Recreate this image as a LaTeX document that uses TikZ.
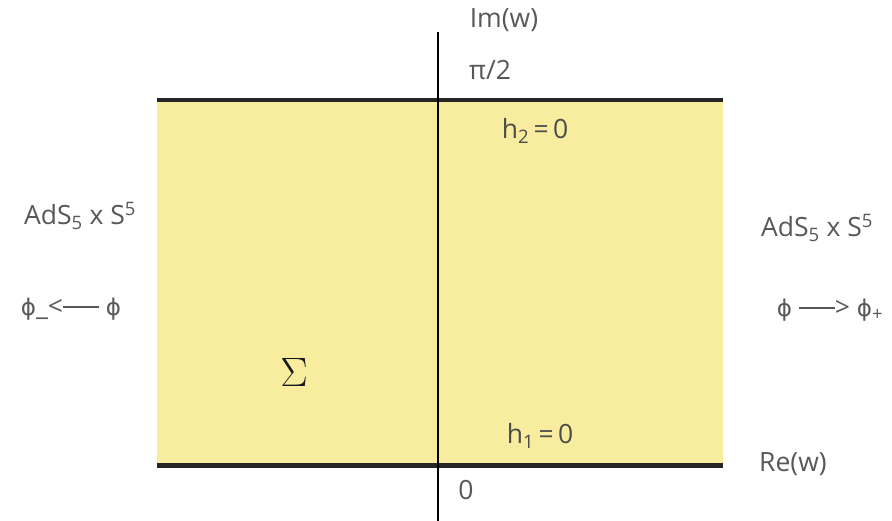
\documentclass[tikz,border=0pt]{standalone}
\usepackage{fontspec}
\setmainfont{Open Sans}
\newfontfamily\phifont{DejaVu Sans}
\usetikzlibrary{positioning}
\definecolor{stripyellow}{RGB}{248,236,158}
\definecolor{labelgray}{RGB}{88,88,88}
\newcommand{\adsfive}{AdS\textsubscript{5} x S\textsuperscript{5}}
\newcommand{\fld}{{\phifont\fontsize{23}{26}\selectfont ϕ}}
\newcommand{\longdash}{\rule[7.5pt]{36pt}{1.6pt}}
\tikzset{
  lbl/.style={text=labelgray,inner sep=0pt},
  edge/.style={line width=4pt,black!85},
}

\begin{document}
\begin{tikzpicture}[x=1pt,y=-1pt,font=\fontsize{26.5}{30}\selectfont]
  \useasboundingbox (0,0) rectangle (892,521);
  % strip 0 < Im(w) < pi/2
  \coordinate (tl) at (157,100);
  \coordinate (tr) at (723,100);
  \coordinate (bl) at (157,465);
  \coordinate (br) at (723,465);
  \fill[stripyellow] (tl) rectangle (br);
  \draw[edge] (tl) -- (tr);
  \draw[edge,line width=5pt] (bl) -- (br);
  % imaginary axis
  \coordinate (imtop) at (438,32);
  \coordinate (imbot) at (438,521);
  \draw[line width=1.3pt] (imtop) -- (imbot);
  \node[lbl] (imw)  at (504,20)  {Im(w)};
  \node[lbl] (pi2)  at (490,70)  {π/2};
  \node[lbl] (rew)  at (793,464) {Re(w)};
  \node[lbl] (zero) at (466,490) {0};
  \node[lbl,text=black!70] (h2) at (535,131) {h\textsubscript{2}\,=\,0};
  \node[lbl,text=black!70] (h1) at (540,436) {h\textsubscript{1}\,=\,0};
  \node[text=black!90,font=\Huge] (sigma) at (294,372) {\scalebox{1.65}{$\Sigma$}};
  % asymptotic regions
  \node[lbl] (adsL) at (80,216)  {\adsfive};
  \node[lbl] (phiL) at (71,309)  {\fld\_<\longdash\ \fld};
  \node[lbl] (adsR) at (817,228) {\adsfive};
  \node[lbl] (phiR) at (830,310) {\fld\ \longdash> \fld\textsubscript{+}};
\end{tikzpicture}
\end{document}
